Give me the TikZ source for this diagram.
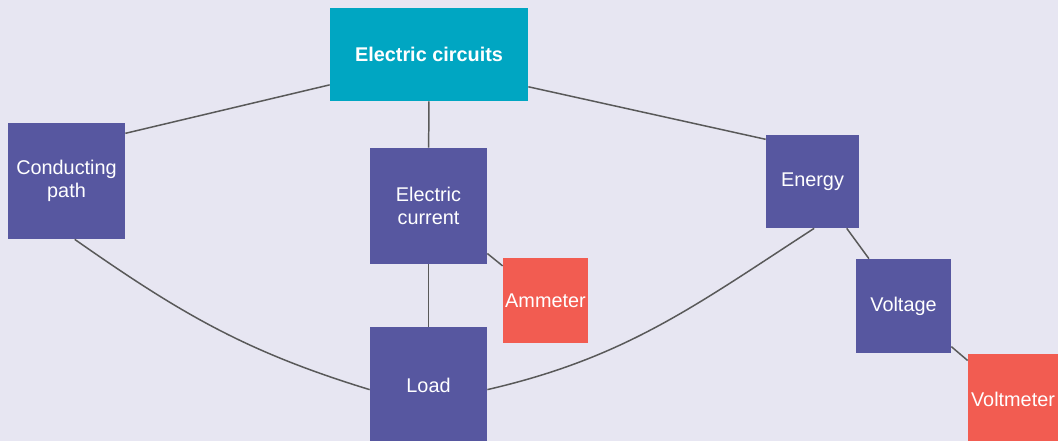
\documentclass[tikz,border=0pt]{standalone}
\usepackage{fontspec}
\setmainfont{Liberation Sans}
\usepackage{tikz}
\usetikzlibrary{positioning}
\definecolor{mapbg}{HTML}{E7E6F2}
\definecolor{topicteal}{HTML}{00A6C2}
\definecolor{conceptpurple}{HTML}{5757A0}
\definecolor{meterred}{HTML}{F25C51}
\definecolor{linkgray}{HTML}{595959}
\tikzset{
  concept/.style={fill=conceptpurple, text=white, align=center, inner sep=0pt,
    font=\fontsize{11.3}{13.4}\selectfont},
  meter/.style={concept, fill=meterred},
  link/.style={draw=linkgray, line width=0.85pt}
}

\begin{document}
\begin{tikzpicture}[x=0.2mm,y=0.2mm]
\fill[mapbg] (0,0) rectangle (1058,-441);
\useasboundingbox (0,0) rectangle (1058,-441);
\clip (0,0) rectangle (1058,-441);

\node[
  concept,
  fill=topicteal,
  minimum width=39.6mm,
  minimum height=18.6mm,
  font=\bfseries\fontsize{11.3}{13.4}\selectfont
] (circuits) at (429,-54.5) {Electric circuits};
\node[concept, minimum width=23.4mm, minimum height=23.2mm] (path) at (66.5,-181) {Conducting\\path};
\node[concept, minimum width=23.4mm, minimum height=23.2mm] (current) at (428.5,-206) {Electric\\current};
\node[concept, minimum size=18.6mm] (energy) at (812.5,-181.5) {Energy};
\node[concept, minimum width=19mm, minimum height=18.8mm] (voltage) at (903.5,-306) {Voltage};
\node[meter, minimum size=17mm] (ammeter) at (545.5,-300.5) {Ammeter};
\node[concept, minimum size=23.4mm] (load) at (428.5,-385.5) {Load};
\node[meter, minimum size=18mm] (voltmeter) at (1013,-399) {Voltmeter};

\draw[link] (circuits.197.6) -- (path.39);
\draw[link] (circuits) -- (current);
\draw[link] (circuits.-18.2) -- (energy.138.3);
\draw[link] (current) -- (ammeter);
\draw[link] (current) -- (load);
\draw[link] (energy) -- (voltage);
\draw[link] (voltage) -- (voltmeter);
\draw[link] (path.-82) to[out=-35, in=163] (load.184.4);
\draw[link] (energy.-88) to[out=213, in=13] (load.-4.4);
\end{tikzpicture}
\end{document}
